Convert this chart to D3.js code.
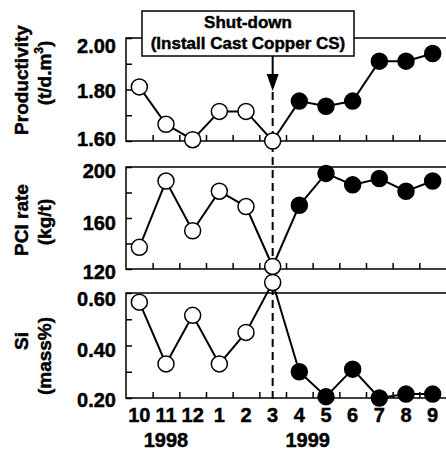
<!DOCTYPE html>
<html>
<head>
<meta charset="utf-8">
<script src="https://cdn.jsdelivr.net/npm/d3@7"></script>
<style>
  body { margin: 0; background: #fff; }
  svg { display: block; }
  text { font-family: "Liberation Sans", Arial, sans-serif; font-weight: bold; fill: #000; stroke: #000; stroke-width: 0.45px; }
</style>
</head>
<body>
<svg width="446" height="450"></svg>
<script>
  // months, Oct 1998 .. Sep 1999
  var months = ["10", "11", "12", "1", "2", "3", "4", "5", "6", "7", "8", "9"];
  var years = ["1998", "1999"];
  var shutdownMonth = "3";
  var firstAfter = 6; // index of first filled (after shut-down) point

  var productivity = [1.81, 1.665, 1.605, 1.715, 1.715, 1.60, 1.755, 1.735, 1.755, 1.91, 1.91, 1.94];
  var pciRate = [137, 189, 150, 181, 169, 122, 170, 195, 186, 191, 181, 189];
  var si = [0.565, 0.33, 0.515, 0.33, 0.45, 0.64, 0.30, 0.205, 0.31, 0.20, 0.215, 0.215];

  var productivityTicks = [1.6, 1.7, 1.8, 1.9, 2.0];
  var productivityLabels = ["1.60", "", "1.80", "", "2.00"];
  var pciTicks = [120, 140, 160, 180, 200];
  var pciLabels = ["120", "", "160", "", "200"];
  var siTicks = [0.2, 0.3, 0.4, 0.5, 0.6];
  var siLabels = ["0.20", "", "0.40", "", "0.60"];

  var svg = d3.select('svg');
  var left = 126, right = 446;

  var x = d3.scaleBand().domain(months).range([left, right]);
  var xb = d3.scaleLinear().domain([0, months.length]).range([left, right]);
  var cx = function(i) { return x(months[i]) + x.bandwidth() / 2; };

  var panels = [
    { values: productivity, ticks: productivityTicks, labels: productivityLabels, top: 38, bottom: 141, title: "Productivity", unit: "(t/d.m", sup: "3", unitEnd: ")", titleY: 80, unitY: 73, labelDy: [4, 0, 8, 0, 14] },
    { values: pciRate, ticks: pciTicks, labels: pciLabels, top: 167, bottom: 269, title: "PCI rate", unit: "(kg/t)", titleY: 220, unitY: 222, labelDy: [9, 0, 11, 0, 10] },
    { values: si, ticks: siTicks, labels: siLabels, top: 293, bottom: 398, title: "Si", unit: "(mass%)", titleY: 341, unitY: 356, labelDy: [8, 0, 11, 0, 12] }
  ];

  // dashed shut-down line (behind the markers)
  var xs = x(shutdownMonth) + x.bandwidth() / 2;
  svg.append('line').attr('x1', xs).attr('y1', 92).attr('x2', xs).attr('y2', 401)
    .attr('stroke', 'black').attr('stroke-width', 2).attr('stroke-dasharray', '8,5');

  panels.forEach(function(p) {
    var y = d3.scaleLinear().domain([p.ticks[0], p.ticks[p.ticks.length - 1]]).range([p.bottom, p.top]);
    var g = svg.append('g');

    // frame: top, left, bottom (right edge runs off the picture)
    g.append('rect').attr('x', left).attr('y', p.top).attr('width', right - left + 4).attr('height', p.bottom - p.top)
      .attr('fill', 'none').attr('stroke', 'black').attr('stroke-width', 1.5);

    // inward ticks on the left axis
    var ya = g.append('g').attr('transform', 'translate(' + left + ',0)')
      .call(d3.axisLeft(y).tickValues(p.ticks).tickSize(-6).tickPadding(10)
        .tickFormat(function(d, i) { return p.labels[i]; }));
    ya.select('.domain').remove();
    ya.selectAll('line').attr('stroke-width', 1.5);
    ya.selectAll('text').attr('font-size', 20).attr('font-family', null)
      .attr('dy', function(d, i) { return p.labelDy[i] + 'px'; });

    // inward ticks along the bottom, at month boundaries
    var xa = g.append('g').attr('transform', 'translate(0,' + p.bottom + ')')
      .call(d3.axisBottom(xb).tickValues(d3.range(1, months.length)).tickSize(-6).tickFormat(''));
    xa.select('.domain').remove();
    xa.selectAll('line').attr('stroke-width', 1.5);

    // series line + markers
    var line = d3.line().x(function(d, i) { return cx(i); }).y(function(d) { return y(d); });
    g.append('path').datum(p.values).attr('d', line).attr('fill', 'none')
      .attr('stroke', 'black').attr('stroke-width', 2);
    g.selectAll('circle').data(p.values).enter().append('circle')
      .attr('cx', function(d, i) { return cx(i); })
      .attr('cy', function(d) { return y(d); })
      .attr('r', 8)
      .attr('fill', function(d, i) { return i >= firstAfter ? 'black' : 'white'; })
      .attr('stroke', 'black').attr('stroke-width', 1.5);

    // axis titles
    g.append('text').attr('transform', 'translate(28,' + p.titleY + ') rotate(-90)')
      .attr('text-anchor', 'middle').attr('font-size', 19).text(p.title);
    var u = g.append('text').attr('transform', 'translate(51,' + p.unitY + ') rotate(-90)')
      .attr('text-anchor', 'middle').attr('font-size', 19);
    u.append('tspan').text(p.unit);
    if (p.sup) {
      u.append('tspan').attr('font-size', 12).attr('dy', -8).text(p.sup);
      u.append('tspan').attr('dy', 8).text(p.unitEnd);
    }
  });

  // month labels
  var ma = svg.append('g').attr('transform', 'translate(0,398)')
    .call(d3.axisBottom(x).tickSize(0).tickPadding(10));
  ma.select('.domain').remove();
  ma.selectAll('text').attr('font-size', 20).attr('font-family', null).attr('dy', '0.71em');

  // year labels
  svg.append('text').attr('x', cx(1)).attr('y', 447).attr('text-anchor', 'middle').attr('font-size', 20).text(years[0]);
  svg.append('text').attr('x', (cx(6) + cx(7)) / 2 - 5).attr('y', 447).attr('text-anchor', 'middle').attr('font-size', 20).text(years[1]);

  // shut-down annotation
  svg.append('rect').attr('x', 142).attr('y', 11).attr('width', 212).attr('height', 45)
    .attr('fill', 'white').attr('stroke', 'black').attr('stroke-width', 1.5);
  svg.append('text').attr('x', 248).attr('y', 28).attr('text-anchor', 'middle').attr('font-size', 17).text('Shut-down');
  svg.append('text').attr('x', 248).attr('y', 49).attr('text-anchor', 'middle').attr('font-size', 17).text('(Install Cast Copper CS)');
  svg.append('line').attr('x1', xs).attr('y1', 56).attr('x2', xs).attr('y2', 76).attr('stroke', 'black').attr('stroke-width', 2);
  svg.append('path').attr('d', 'M' + (xs - 6) + ',74L' + (xs + 6) + ',74L' + xs + ',91Z').attr('fill', 'black');
</script>
</body>
</html>
